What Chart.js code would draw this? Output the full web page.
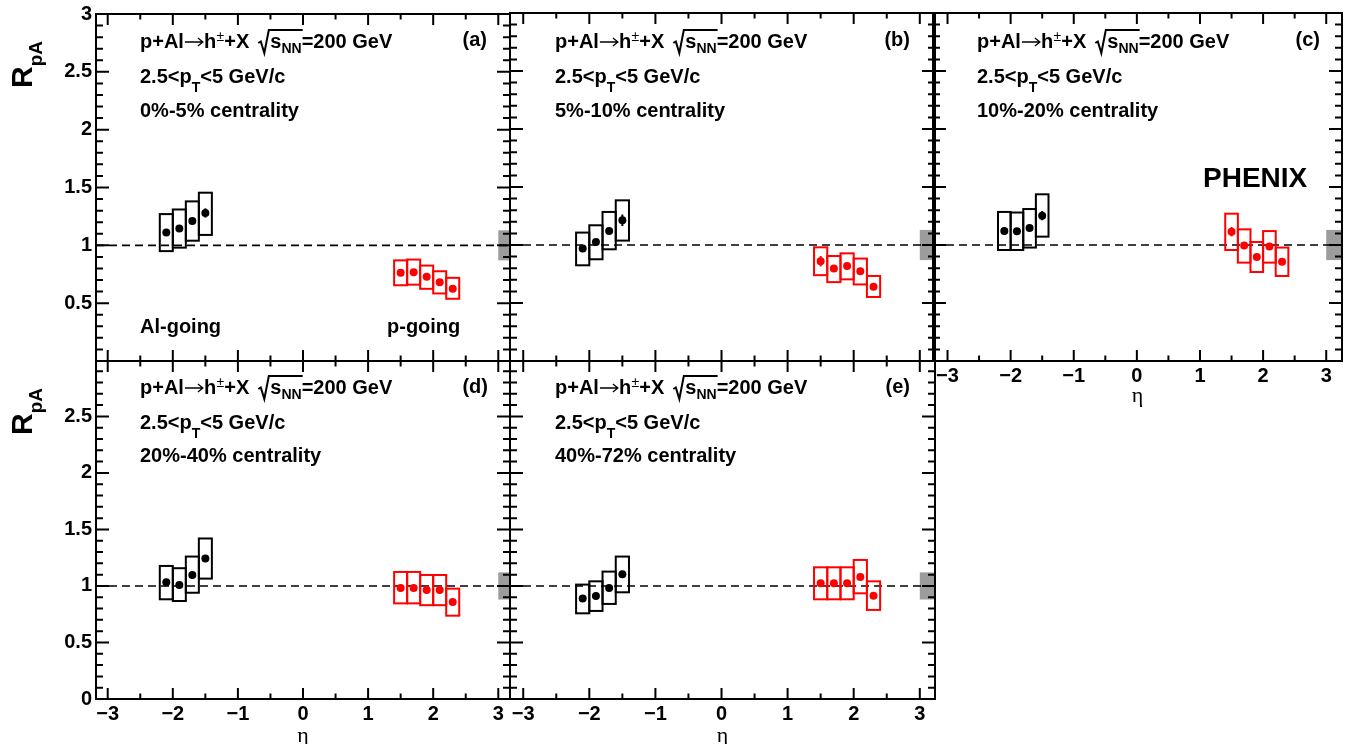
<!DOCTYPE html>
<html>
<head>
<meta charset="utf-8">
<script src="https://cdn.jsdelivr.net/npm/chart.js@4.4.1/dist/chart.umd.min.js"></script>
<style>
  html, body { margin: 0; padding: 0; background: #fff; }
  #page { position: relative; width: 1360px; height: 744px; overflow: hidden; }
  #page canvas { position: absolute; left: 0; top: 0; }
</style>
</head>
<body>
<div id="page">
  <canvas id="pa" width="1360" height="744"></canvas>
  <canvas id="pb" width="1360" height="744"></canvas>
  <canvas id="pc" width="1360" height="744"></canvas>
  <canvas id="pd" width="1360" height="744"></canvas>
  <canvas id="pe" width="1360" height="744"></canvas>
</div>
<script>
// eta bin centres, bins are 0.2 wide
var etaAl = [-2.1, -1.9, -1.7, -1.5];
var etaP = [1.5, 1.7, 1.9, 2.1, 2.3];
var etaHalfBin = 0.1;

var centrality = ['0%-5%', '5%-10%', '10%-20%', '20%-40%', '40%-72%'];
var tags = ['(a)', '(b)', '(c)', '(d)', '(e)'];

// Al-going (black), one row per centrality class
var alValue = [
    [1.11, 1.145, 1.21, 1.28],
    [0.97, 1.026, 1.12, 1.213],
    [1.12, 1.118, 1.147, 1.253],
    [1.033, 1.009, 1.097, 1.242],
    [0.888, 0.912, 0.982, 1.103]
];
var alStat = [
    [0.02, 0.02, 0.025, 0.04],
    [0.02, 0.02, 0.025, 0.05],
    [0.02, 0.02, 0.025, 0.04],
    [0.02, 0.02, 0.02, 0.03],
    [0.02, 0.02, 0.02, 0.03]
];
var alSysLow = [
    [0.95, 0.98, 1.04, 1.09],
    [0.825, 0.877, 0.963, 1.038],
    [0.957, 0.957, 0.978, 1.072],
    [0.882, 0.867, 0.94, 1.065],
    [0.758, 0.779, 0.841, 0.944]
];
var alSysHigh = [
    [1.27, 1.31, 1.38, 1.455],
    [1.107, 1.17, 1.285, 1.385],
    [1.285, 1.28, 1.31, 1.437],
    [1.177, 1.157, 1.26, 1.42],
    [1.012, 1.041, 1.127, 1.26]
];

// p-going (red)
var pValue = [
    [0.762, 0.767, 0.728, 0.68, 0.624],
    [0.86, 0.797, 0.819, 0.773, 0.641],
    [1.115, 0.995, 0.897, 0.986, 0.855],
    [0.982, 0.982, 0.965, 0.965, 0.858],
    [1.024, 1.024, 1.024, 1.08, 0.914]
];
var pStat = [
    [0.02, 0.02, 0.02, 0.02, 0.02],
    [0.045, 0.02, 0.02, 0.02, 0.02],
    [0.04, 0.02, 0.02, 0.02, 0.02],
    [0.02, 0.02, 0.02, 0.02, 0.02],
    [0.02, 0.02, 0.02, 0.02, 0.02]
];
var pSysLow = [
    [0.655, 0.66, 0.624, 0.584, 0.538],
    [0.74, 0.68, 0.704, 0.66, 0.552],
    [0.957, 0.848, 0.767, 0.848, 0.733],
    [0.846, 0.846, 0.83, 0.83, 0.737],
    [0.882, 0.882, 0.882, 0.935, 0.788]
];
var pSysHigh = [
    [0.87, 0.877, 0.825, 0.776, 0.719],
    [0.98, 0.905, 0.928, 0.883, 0.733],
    [1.27, 1.135, 1.026, 1.12, 0.978],
    [1.124, 1.124, 1.097, 1.097, 0.976],
    [1.165, 1.165, 1.165, 1.23, 1.041]
];

// global normalisation uncertainty (grey box at eta > 3)
var globalUnc = [0.13, 0.13, 0.13, 0.12, 0.12];
var globalBoxEta = 3;

var xTicks = [-3, -2, -1, 0, 1, 2, 3];
var xTickLabels = ['\u22123', '\u22122', '\u22121', '0', '1', '2', '3'];
var yTicks = [0, 0.5, 1, 1.5, 2, 2.5, 3];
var yTickLabelsTop = ['', '0.5', '1', '1.5', '2', '2.5', '3'];
var yTickLabelsBottom = ['0', '0.5', '1', '1.5', '2', '2.5', ''];

var W = 1360, H = 744;
var B20 = 'bold 20px "Liberation Sans", Arial, sans-serif';
var B14 = 'bold 14px "Liberation Sans", Arial, sans-serif';
var R14 = '14px "Liberation Sans", Arial, sans-serif';

var layout = [
    { id: 'pa', box: [96, 13, 510, 361], xr: [-3.18, 3.18], yr: [0, 3], yLabels: yTickLabelsTop, xAxisH: 0,
      textX: 140, lines: [48, 83, 116.5], tagX: 487, tagY: 46 },
    { id: 'pb', box: [510, 13, 935, 361], xr: [-3.2, 3.23], yr: [0, 3], yLabels: null, xAxisH: 0,
      textX: 555, lines: [48, 83, 116.5], tagX: 910, tagY: 46 },
    { id: 'pc', box: [933, 13, 1342, 361], xr: [-3.23, 3.25], yr: [0, 3], yLabels: null, xAxisH: 41,
      textX: 977, lines: [48, 83, 116.5], tagX: 1320, tagY: 46 },
    { id: 'pd', box: [96, 361, 510, 699], xr: [-3.18, 3.18], yr: [0, 2.99], yLabels: yTickLabelsBottom, xAxisH: 43,
      textX: 140, lines: [394, 428.5, 461.5], tagX: 488, tagY: 392.5 },
    { id: 'pe', box: [510, 361, 935, 699], xr: [-3.2, 3.23], yr: [0, 2.99], yLabels: null, xAxisH: 43,
      textX: 555, lines: [394, 428.5, 461.5], tagX: 910, tagY: 392.5 }
];

function seg(ctx, t, font, x, y) {
    ctx.font = font;
    ctx.fillText(t, x, y);
    return x + ctx.measureText(t).width;
}

function drawBoxes(ctx, xs, ys, eta, lo, hi, color) {
    ctx.strokeStyle = color;
    ctx.lineWidth = 2;
    for (var i = 0; i < eta.length; i++) {
        var x0 = xs.getPixelForValue(eta[i] - etaHalfBin);
        var x1 = xs.getPixelForValue(eta[i] + etaHalfBin);
        var y0 = ys.getPixelForValue(hi[i]);
        var y1 = ys.getPixelForValue(lo[i]);
        ctx.strokeRect(x0, y0, x1 - x0, y1 - y0);
    }
}

function drawStat(ctx, xs, ys, eta, val, err, color) {
    ctx.strokeStyle = color;
    ctx.lineWidth = 2;
    for (var i = 0; i < eta.length; i++) {
        var px = xs.getPixelForValue(eta[i]);
        ctx.beginPath();
        ctx.moveTo(px, ys.getPixelForValue(val[i] + err[i]));
        ctx.lineTo(px, ys.getPixelForValue(val[i] - err[i]));
        ctx.stroke();
    }
}

var rootDeco = {
    id: 'rootDeco',
    beforeDatasetsDraw: function (chart, args, o) {
        var ctx = chart.ctx, a = chart.chartArea, xs = chart.scales.x, ys = chart.scales.y;
        var p = o.panel;
        ctx.save();
        // normalisation box
        var gx = xs.getPixelForValue(globalBoxEta);
        var gy0 = ys.getPixelForValue(1 + globalUnc[p]);
        var gy1 = ys.getPixelForValue(1 - globalUnc[p]);
        ctx.fillStyle = '#9c9c9c';
        ctx.fillRect(gx, gy0, a.right - gx, gy1 - gy0);
        // unity line
        var y1 = ys.getPixelForValue(1);
        ctx.strokeStyle = '#000';
        ctx.lineWidth = 1.6;
        ctx.setLineDash([8, 5]);
        ctx.beginPath();
        ctx.moveTo(a.left, y1);
        ctx.lineTo(a.right, y1);
        ctx.stroke();
        ctx.setLineDash([]);
        drawBoxes(ctx, xs, ys, etaAl, alSysLow[p], alSysHigh[p], '#000');
        drawBoxes(ctx, xs, ys, etaP, pSysLow[p], pSysHigh[p], '#ff0000');
        drawStat(ctx, xs, ys, etaAl, alValue[p], alStat[p], '#000');
        drawStat(ctx, xs, ys, etaP, pValue[p], pStat[p], '#ff0000');
        ctx.restore();
    },
    afterDraw: function (chart, args, o) {
        var ctx = chart.ctx, a = chart.chartArea, xs = chart.scales.x, ys = chart.scales.y;
        var p = o.panel, L = layout[p];
        var i, v, px, py, len;
        ctx.save();
        ctx.strokeStyle = '#000';
        ctx.fillStyle = '#000';
        ctx.lineWidth = 2;
        // ticks on all four sides, pointing inwards
        ctx.beginPath();
        for (i = -30; i <= 30; i++) {
            v = i / 10;
            if (v < ys.min || v > ys.max) continue;
            py = ys.getPixelForValue(v);
            len = (i % 5 === 0) ? 13 : 7;
            ctx.moveTo(a.left, py); ctx.lineTo(a.left + len, py);
            ctx.moveTo(a.right, py); ctx.lineTo(a.right - len, py);
        }
        for (i = -7; i <= 7; i++) {
            v = i / 2;
            if (v < xs.min || v > xs.max) continue;
            px = xs.getPixelForValue(v);
            len = (i % 2 === 0) ? 11 : 5.5;
            ctx.moveTo(px, a.bottom); ctx.lineTo(px, a.bottom - len);
            ctx.moveTo(px, a.top); ctx.lineTo(px, a.top + len);
        }
        ctx.stroke();
        ctx.strokeRect(a.left, a.top, a.right - a.left, a.bottom - a.top);

        // annotation text
        ctx.textBaseline = 'alphabetic';
        ctx.textAlign = 'left';
        var tx = L.textX, by = L.lines[0];
        var cx = seg(ctx, 'p+Al', B20, tx, by);
        // thin arrow
        ctx.lineWidth = 1.3;
        ctx.beginPath();
        ctx.moveTo(cx + 1, by - 6);
        ctx.lineTo(cx + 19, by - 6);
        ctx.moveTo(cx + 14, by - 10);
        ctx.lineTo(cx + 19, by - 6);
        ctx.lineTo(cx + 14, by - 2);
        ctx.stroke();
        cx += 20;
        cx = seg(ctx, 'h', B20, cx, by);
        cx = seg(ctx, '\u00b1', R14, cx + 0.5, by - 7);
        cx = seg(ctx, '+X', B20, cx, by);
        var r0 = cx + 9;
        var ex = seg(ctx, 's', B20, r0 + 12, by);
        ex = seg(ctx, 'NN', B14, ex, by + 5);
        ctx.lineWidth = 2;
        ctx.beginPath();
        ctx.moveTo(r0, by - 5);
        ctx.lineTo(r0 + 2.5, by - 6.5);
        ctx.lineTo(r0 + 6, by + 5);
        ctx.lineTo(r0 + 10.5, by - 18);
        ctx.lineTo(ex + 1, by - 18);
        ctx.stroke();
        seg(ctx, '=200 GeV', B20, ex, by);

        by = L.lines[1];
        cx = seg(ctx, '2.5<p', B20, tx, by);
        cx = seg(ctx, 'T', B14, cx, by + 9);
        seg(ctx, '<5 GeV/c', B20, cx, by);

        seg(ctx, centrality[p] + ' centrality', B20, tx, L.lines[2]);

        ctx.textAlign = 'right';
        seg(ctx, tags[p], B20, L.tagX, L.tagY);
        ctx.textAlign = 'left';

        if (p === 0) {
            seg(ctx, 'Al-going', B20, 140, 333);
            seg(ctx, 'p-going', B20, 387, 333);
        }
        if (p === 2) {
            seg(ctx, 'PHENIX', 'bold 28px "Liberation Sans", Arial, sans-serif', 1203, 186.5);
        }
        if (L.yLabels) {
            // y axis title R_pA, rotated
            ctx.translate(32, a.top + 74);
            ctx.rotate(-Math.PI / 2);
            var rx = seg(ctx, 'R', 'bold 30px "Liberation Sans", Arial, sans-serif', 0, 0);
            seg(ctx, 'pA', 'bold 19px "Liberation Sans", Arial, sans-serif', rx, 10);
        }
        ctx.restore();
    }
};

layout.forEach(function (L, p) {
    var hasY = !!L.yLabels;
    var hasX = L.xAxisH > 0;
    new Chart(document.getElementById(L.id), {
        type: 'scatter',
        data: {
            datasets: [
                {
                    label: 'Al-going',
                    data: etaAl.map(function (e, i) { return { x: e, y: alValue[p][i] }; }),
                    backgroundColor: '#000',
                    borderWidth: 0,
                    pointRadius: 4
                },
                {
                    label: 'p-going',
                    data: etaP.map(function (e, i) { return { x: e, y: pValue[p][i] }; }),
                    backgroundColor: '#ff0000',
                    borderWidth: 0,
                    pointRadius: 4
                }
            ]
        },
        options: {
            responsive: false,
            animation: false,
            events: [],
            layout: {
                autoPadding: false,
                padding: {
                    left: L.box[0] - (hasY ? 40 : 0),
                    top: L.box[1],
                    right: W - L.box[2],
                    bottom: H - L.box[3] - L.xAxisH
                }
            },
            plugins: {
                legend: { display: false },
                tooltip: { enabled: false },
                rootDeco: { panel: p }
            },
            scales: {
                x: {
                    type: 'linear',
                    min: L.xr[0],
                    max: L.xr[1],
                    display: hasX,
                    grid: { display: false, drawTicks: false },
                    border: { display: false },
                    afterBuildTicks: function (s) {
                        s.ticks = xTicks.map(function (v) { return { value: v }; });
                    },
                    afterFit: function (s) { s.height = L.xAxisH; },
                    ticks: {
                        autoSkip: false,
                        maxRotation: 0,
                        minRotation: 0,
                        padding: 3,
                        color: '#000',
                        font: { family: '"Liberation Sans", Arial, sans-serif', size: 20, weight: 'bold' },
                        callback: function (v) { return xTickLabels[xTicks.indexOf(v)]; }
                    },
                    title: {
                        display: true,
                        text: '\u03b7',
                        color: '#000',
                        padding: 0,
                        font: { family: '"Liberation Serif", "DejaVu Serif", serif', size: 22, lineHeight: 0.55 }
                    }
                },
                y: {
                    type: 'linear',
                    min: L.yr[0],
                    max: L.yr[1],
                    display: hasY,
                    grid: { display: false, drawTicks: false },
                    border: { display: false },
                    afterBuildTicks: function (s) {
                        s.ticks = yTicks.filter(function (v) { return v <= L.yr[1] + 1e-9; })
                            .map(function (v) { return { value: v }; });
                    },
                    afterFit: function (s) { if (hasY) s.width = 40; },
                    ticks: {
                        padding: 4,
                        color: '#000',
                        font: { family: '"Liberation Sans", Arial, sans-serif', size: 20, weight: 'bold', lineHeight: 1 },
                        callback: function (v) {
                            var k = yTicks.indexOf(v);
                            return (L.yLabels && k >= 0) ? L.yLabels[k] : '';
                        }
                    }
                }
            }
        },
        plugins: [rootDeco]
    });
});
</script>
</body>
</html>
